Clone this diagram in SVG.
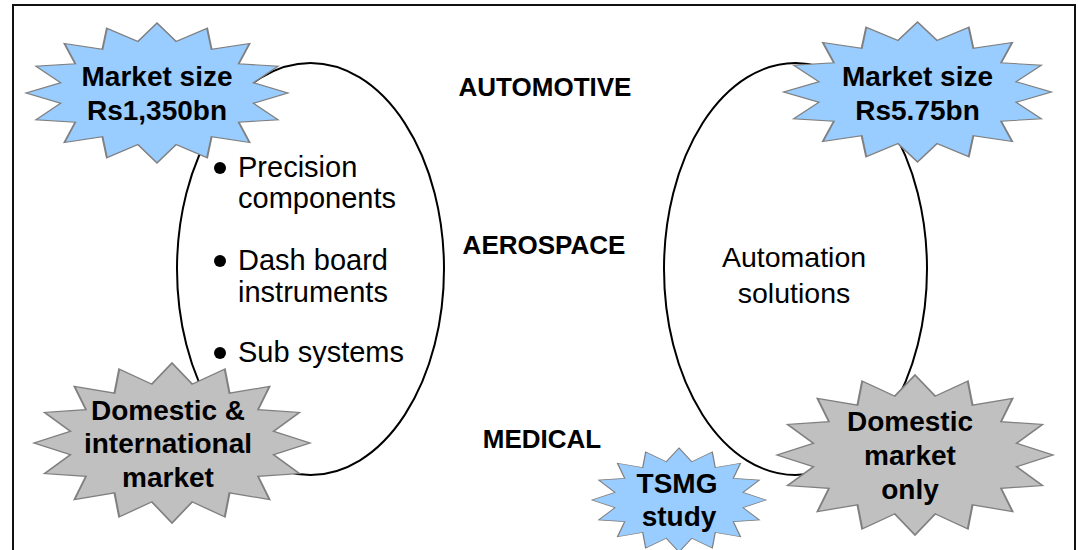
<svg xmlns="http://www.w3.org/2000/svg" xmlns:xlink="http://www.w3.org/1999/xlink" width="1078" height="550" viewBox="0 0 1078 550">
<style>
.frame{fill:none;stroke:#111;stroke-width:2}
.oval{fill:none;stroke:#000;stroke-width:2}
.star{stroke:#808080;stroke-width:1.5;vector-effect:non-scaling-stroke}
.blue{fill:#99CCFF}
.gray{fill:#C0C0C0}
text{font-family:"Liberation Sans",Arial,sans-serif;fill:#000}
.b{font-weight:bold;font-size:28px;text-anchor:middle}
.cat{font-weight:bold;font-size:26px;text-anchor:middle}
.n{font-size:29px}
.nc{font-size:28.5px;text-anchor:middle}
</style>
<defs>
<polygon id="star16" points="0,-100 14.63,-73.56 38.27,-92.39 41.67,-62.36 70.71,-70.71 62.36,-41.67 92.39,-38.27 73.56,-14.63 100,0 73.56,14.63 92.39,38.27 62.36,41.67 70.71,70.71 41.67,62.36 38.27,92.39 14.63,73.56 0,100 -14.63,73.56 -38.27,92.39 -41.67,62.36 -70.71,70.71 -62.36,41.67 -92.39,38.27 -73.56,14.63 -100,0 -73.56,-14.63 -92.39,-38.27 -62.36,-41.67 -70.71,-70.71 -41.67,-62.36 -38.27,-92.39 -14.63,-73.56"/>
</defs>
<rect fill="#fff" x="0" y="0" width="1078" height="550"/>
<rect class="frame" x="13" y="5" width="1062" height="570"/>
<g id="connectors"></g>
<g id="left-oval">
<ellipse class="oval" cx="310.5" cy="269" rx="133.5" ry="206"/>
<circle cx="220" cy="168" r="6"/>
<text class="n" x="238" y="177">Precision</text>
<text class="n" x="238" y="208">components</text>
<circle cx="220" cy="261" r="6"/>
<text class="n" x="238" y="270">Dash board</text>
<text class="n" x="238" y="302">instruments</text>
<circle cx="220" cy="353" r="6"/>
<text class="n" x="238" y="362">Sub systems</text>
</g>
<g id="right-oval">
<ellipse class="oval" cx="795.5" cy="269" rx="131.5" ry="206"/>
<text class="nc" x="794" y="267">Automation</text>
<text class="nc" x="794" y="303">solutions</text>
</g>
<g id="labels">
<text class="cat" x="545" y="96">AUTOMOTIVE</text>
<text class="cat" x="544" y="254">AEROSPACE</text>
<text class="cat" x="542" y="448">MEDICAL</text>
</g>
<g id="star-market-left">
<use xlink:href="#star16" class="star blue" transform="translate(157,93) scale(1.31,0.70)"/>
<text class="b" x="157" y="86">Market size</text>
<text class="b" x="157" y="120">Rs1,350bn</text>
</g>
<g id="star-market-right">
<use xlink:href="#star16" class="star blue" transform="translate(917.5,92) scale(1.34,0.70)"/>
<text class="b" x="917.5" y="86">Market size</text>
<text class="b" x="917.5" y="120">Rs5.75bn</text>
</g>
<g id="star-domestic-intl">
<use xlink:href="#star16" class="star gray" transform="translate(172,443) scale(1.38,0.80)"/>
<text class="b" x="168" y="420">Domestic &amp;</text>
<text class="b" x="168" y="453">international</text>
<text class="b" x="168" y="487">market</text>
</g>
<g id="star-domestic-only">
<use xlink:href="#star16" class="star gray" transform="translate(915,455) scale(1.38,0.80)"/>
<text class="b" x="910" y="431">Domestic</text>
<text class="b" x="910" y="465">market</text>
<text class="b" x="910" y="499">only</text>
</g>
<g id="star-tsmg">
<use xlink:href="#star16" class="star blue" transform="translate(679,500) scale(0.87,0.52)"/>
<text class="b" x="677" y="493">TSMG</text>
<text class="b" x="679" y="526">study</text>
</g>
</svg>
